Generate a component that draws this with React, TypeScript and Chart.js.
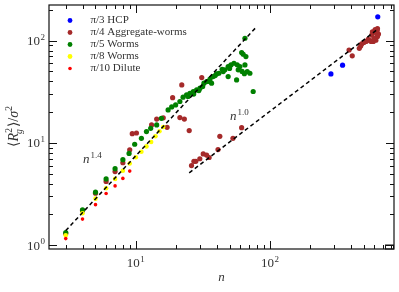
import React, { useEffect, useRef } from "react";
import { Chart, registerables } from "chart.js";
Chart.register(...registerables);

// ---- data (n, <Rg^2>/sigma^2) ----
const hcpPi3: number[][] = [[285, 47.3], [348, 57.5], [637, 171]];

const aggPi4: number[][] = [
  [3, 1.3], [4, 2.18], [5, 3.22], [6, 4.2], [7, 5.25], [8, 6.4], [9, 8.55], [9.4, 12.3], [10.1, 12.5],
  [13.1, 15.0], [14.3, 17.1], [16, 17.6], [18.8, 27.7], [22, 36.9], [31, 43.5],
  [17.1, 14.2], [21.3, 17.7], [23, 17.1], [25, 13.2],
  [26, 6.0], [27.1, 6.6], [28, 6.6], [30, 7.0], [31.8, 7.8], [33.7, 7.6], [35.2, 7.2], [41, 8.6], [42.3, 11.6], [53, 11.1], [61.5, 14.1],
  [389, 81], [411, 71], [464, 84], [475, 88.7], [483, 92.9], [502, 96], [521, 98], [540, 103], [559, 100], [575, 113],
  [581, 122], [599, 122], [609, 128], [623, 118], [634, 110], [617, 101], [590, 98], [569, 98], [645, 116], [630, 125],
  [599, 105.5], [634, 131],
];

const wormsPi5: number[][] = [
  [3, 1.33], [4, 2.22], [5, 3.3], [6, 4.45], [7, 5.6], [8, 6.85], [8.9, 7.9], [9.8, 9.7], [11, 11.1], [12, 12.9],
  [12.9, 13.9], [14.3, 15], [15.5, 17.4], [17.4, 21], [18.5, 22.5], [19.8, 23.5], [21.3, 25.4], [22.5, 28], [23.9, 29.5],
  [25.3, 30.6], [26.8, 31.8], [28.4, 33], [30.1, 34.3], [31.5, 35.6], [32.2, 38.4], [33.7, 39.8], [35.7, 42], [36.7, 38.4],
  [37.7, 44.5], [40, 47.3], [41.6, 48], [44.8, 49.8], [46.1, 51.8], [48.8, 55.7], [51.2, 57.9], [53.9, 60.1], [56.4, 41.3],
  [58, 51.8], [59.7, 55.7], [61.5, 76.4], [63.2, 73.6], [66.2, 69.8], [65.1, 105.5], [65.1, 57.9], [67.7, 49.8], [70.9, 48],
  [75, 31.8], [48.8, 44.5], [44, 52.5], [50, 53.5], [62, 50], [64.5, 47.5], [57, 58], [39, 45.5], [35, 40], [29.5, 32.5],
  [27, 30], [24.5, 28.5],
];

const wormsPi8: number[][] = [
  [3, 1.25], [4, 2.05], [5, 2.85], [6, 3.6], [7, 4.45], [8, 5.35], [9, 6.3], [10, 7.25], [11, 8.2], [12, 9.25],
  [13, 10.2], [14, 11.6], [15, 13.0], [16, 14.3],
];

const dilutePi10: number[][] = [[3, 1.16], [4, 1.8], [5, 2.49], [6, 3.2], [7, 3.8], [8, 4.5], [9, 5.3]];

const fit14: number[][] = [[3, 1.39], [78, 133]];
const fit10: number[][] = [[25, 5.1], [640, 130]];

const legendLabels = ["π/3 HCP", "π/4 Aggregate-worms", "π/5 Worms", "π/8 Worms", "π/10 Dilute"];
const legendColors = ["#0000ff", "#a52a2a", "#008000", "#ffff00", "#ff0000"];

const xMajor = [10, 100];
const xMinor = [3, 4, 5, 6, 7, 8, 9, 20, 30, 40, 50, 60, 70, 80, 90, 200, 300, 400, 500, 600, 700, 800];
const yMajor = [1, 10, 100];
const yMinor = [2, 3, 4, 5, 6, 7, 8, 9, 20, 30, 40, 50, 60, 70, 80, 90, 200];
const xTickExp = ["1", "2"];
const yTickExp = ["0", "1", "2"];

const X_MIN = 2.25, X_MAX = 842, Y_MIN = 0.918, Y_MAX = 223;
const SERIF = '"Liberation Serif", "DejaVu Serif", serif';

const toPts = (arr: number[][]) => arr.map(([x, y]) => ({ x, y }));

const decor = {
  id: "decor",
  afterDraw(chart: any) {
    const ctx = chart.ctx as CanvasRenderingContext2D;
    const { left, right, top, bottom } = chart.chartArea;
    const xs = chart.scales.x, ys = chart.scales.y;
    ctx.save();
    ctx.strokeStyle = "#111";
    ctx.lineWidth = 1.2;
    ctx.strokeRect(left, top, right - left, bottom - top);
    ctx.lineWidth = 1;
    const tick = (x1: number, y1: number, x2: number, y2: number) => {
      ctx.beginPath(); ctx.moveTo(x1, y1); ctx.lineTo(x2, y2); ctx.stroke();
    };
    xMajor.forEach(v => { const p = Math.round(xs.getPixelForValue(v)) + 0.5; tick(p, bottom, p, bottom - 8); tick(p, top, p, top + 8); });
    xMinor.forEach(v => { const p = Math.round(xs.getPixelForValue(v)) + 0.5; if (p < right) { tick(p, bottom, p, bottom - 4); tick(p, top, p, top + 4); } });
    yMajor.forEach(v => { const p = Math.round(ys.getPixelForValue(v)) + 0.5; tick(left, p, left + 8, p); tick(right, p, right - 8, p); });
    yMinor.forEach(v => { const p = Math.round(ys.getPixelForValue(v)) + 0.5; if (p > top) { tick(left, p, left + 4, p); tick(right, p, right - 4, p); } });
    ctx.strokeRect(right - 8.5, bottom - 4, 8, 4);

    // tick labels
    ctx.fillStyle = "#333";
    const drawPow = (x: number, baseY: number, exp: string, align: "center" | "right") => {
      ctx.font = `13px ${SERIF}`;
      const wb = ctx.measureText("10").width;
      ctx.font = `9px ${SERIF}`;
      const we = ctx.measureText(exp).width;
      const total = wb + we + 0.5;
      const x0 = align === "center" ? x - total / 2 : x - total;
      ctx.textAlign = "left"; ctx.textBaseline = "alphabetic";
      ctx.font = `13px ${SERIF}`;
      ctx.fillText("10", x0, baseY);
      ctx.font = `9px ${SERIF}`;
      ctx.fillText(exp, x0 + wb + 0.5, baseY - 5.5);
    };
    xMajor.forEach((v, i) => drawPow(xs.getPixelForValue(v), 267, xTickExp[i], "center"));
    yMajor.forEach((v, i) => drawPow(left - 4, ys.getPixelForValue(v) + 4.5, yTickExp[i], "right"));

    // x axis title
    ctx.font = `italic 13px ${SERIF}`;
    ctx.textAlign = "center";
    ctx.fillText("n", (left + right) / 2, 281);

    // y axis title (rotated)
    ctx.save();
    ctx.translate(18, (top + bottom) / 2);
    ctx.rotate(-Math.PI / 2);
    const parts: [string, string, number][] = [
      ["⟨", `14px ${SERIF}`, 0], ["R", `italic 14px ${SERIF}`, 0], ["2", `9.5px ${SERIF}`, -6],
      ["⟩/", `14px ${SERIF}`, 0], ["σ", `italic 14px ${SERIF}`, 0], ["2", `9.5px ${SERIF}`, -6],
    ];
    let tw = 0;
    parts.forEach(([t, f]) => { ctx.font = f; tw += ctx.measureText(t).width; });
    let cx = -tw / 2;
    ctx.textAlign = "left";
    parts.forEach(([t, f, dy], i) => {
      ctx.font = f;
      ctx.fillText(t, cx, dy);
      if (i === 1) {
        ctx.font = `italic 9.5px ${SERIF}`;
        ctx.fillText("g", cx + ctx.measureText("R").width + 1.5, 4);
        ctx.font = f;
      }
      cx += ctx.measureText(t).width + (i === 2 ? 1 : 0);
    });
    ctx.restore();

    // annotations
    const ann = (x: number, y: number, exp: string) => {
      ctx.textAlign = "left";
      ctx.font = `italic 13px ${SERIF}`;
      ctx.fillText("n", x, y);
      const w = ctx.measureText("n").width;
      ctx.font = `9px ${SERIF}`;
      ctx.fillText(exp, x + w + 1, y - 5.5);
    };
    ann(83, 163, "1.4");
    ann(230, 120, "1.0");

    // legend
    legendLabels.forEach((lab, i) => {
      const y = 20.5 + i * 12;
      ctx.beginPath();
      ctx.fillStyle = legendColors[i];
      ctx.arc(70, y, i === 4 ? 1.8 : 2.4, 0, Math.PI * 2);
      ctx.fill();
      ctx.fillStyle = "#333";
      ctx.font = `11px ${SERIF}`;
      ctx.textAlign = "left";
      ctx.textBaseline = "middle";
      ctx.fillText(lab, 90.5, y);
    });
    ctx.restore();
  },
};

export default function App() {
  const ref = useRef<HTMLCanvasElement>(null);
  useEffect(() => {
    if (!ref.current) return;
    const pt = (data: number[][], color: string, r: number, order: number) => ({
      data: toPts(data), backgroundColor: color, borderColor: color, borderWidth: 0, pointRadius: r, order,
    });
    const chart = new Chart(ref.current, {
      type: "scatter",
      data: {
        datasets: [
          { data: toPts(fit14), showLine: true, borderColor: "#000", borderDash: [4, 3], borderWidth: 1.5, pointRadius: 0, order: 0 } as any,
          { data: toPts(fit10), showLine: true, borderColor: "#000", borderDash: [4, 3], borderWidth: 1.5, pointRadius: 0, order: 0 } as any,
          pt(dilutePi10, "#ff0000", 1.8, 1),
          pt(wormsPi8, "#ffff00", 2.3, 2),
          pt(wormsPi5, "#008000", 2.6, 3),
          pt(aggPi4, "#a52a2a", 2.6, 4),
          pt(hcpPi3, "#0000ff", 2.6, 5),
        ],
      },
      options: {
        animation: false,
        responsive: false,
        devicePixelRatio: 1,
        events: [],
        layout: { padding: { left: 49, top: 5, right: 5, bottom: 43 } },
        plugins: { legend: { display: false }, tooltip: { enabled: false } },
        scales: {
          x: { type: "logarithmic", min: X_MIN, max: X_MAX, display: false },
          y: { type: "logarithmic", min: Y_MIN, max: Y_MAX, display: false },
        },
      },
      plugins: [decor],
    });
    return () => chart.destroy();
  }, []);
  return (
    <div style={{ position: "fixed", left: 0, top: 0, width: 399, height: 292, background: "#fff" }}>
      <canvas ref={ref} width={399} height={292} />
    </div>
  );
}
